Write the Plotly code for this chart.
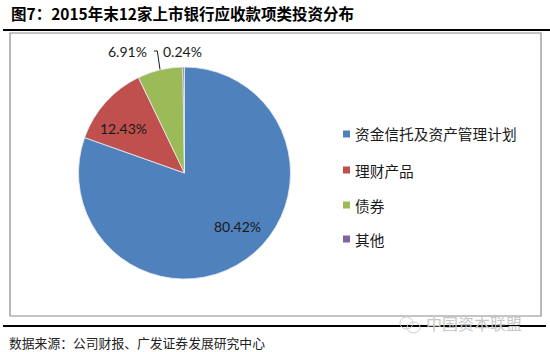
import plotly.graph_objects as go

title_text = "图7：2015年末12家上市银行应收款项类投资分布"
source_text = "数据来源：公司财报、广发证券发展研究中心"
watermark_text = "中国资本联盟"

categories = ["资金信托及资产管理计划", "理财产品", "债券", "其他"]
values = [80.42, 12.43, 6.91, 0.24]
colors = ["#4F81BD", "#C0504D", "#9BBB59", "#8064A2"]

W, H = 550, 352

def px(x):
    return x / W

def py(y):
    return 1 - y / H

cx, cy, r = 184.5, 173, 106

fig = go.Figure()
fig.add_trace(go.Pie(
    labels=categories,
    values=values,
    sort=False,
    direction="clockwise",
    rotation=0,
    marker=dict(colors=colors, line=dict(color="#E8EEF6", width=0.8)),
    textinfo="none",
    hoverinfo="skip",
    showlegend=False,
    domain=dict(x=[px(cx - r), px(cx + r)], y=[py(cy + r), py(cy - r)]),
))

shapes = []
annotations = []

# frame lines
shapes.append(dict(type="line", xref="paper", yref="paper",
                   x0=px(3), x1=px(550), y0=py(30), y1=py(30),
                   line=dict(color="#000000", width=2)))
shapes.append(dict(type="rect", xref="paper", yref="paper",
                   x0=px(10), x1=px(541), y0=py(316), y1=py(33),
                   line=dict(color="#8C8C8C", width=1.2)))
shapes.append(dict(type="line", xref="paper", yref="paper",
                   x0=px(3), x1=px(546), y0=py(326), y1=py(326),
                   line=dict(color="#000000", width=2)))

# data labels
label_pos = [(237, 226), (123, 128), (127, 51), (182, 51)]
for v, (lx, ly) in zip(values, label_pos):
    annotations.append(dict(xref="paper", yref="paper", x=px(lx), y=py(ly),
                            text=f"{v:.2f}%", showarrow=False,
                            xanchor="center", yanchor="middle",
                            font=dict(family="Lato", size=14, color="#1A1A1A")))
# leader line for 6.91%
shapes.append(dict(type="path", xref="paper", yref="paper",
                   path=f"M {px(154)} {py(51)} L {px(157.3)} {py(51)} L {px(160)} {py(69.5)}",
                   line=dict(color="#1A1A1A", width=1)))

# legend
leg_y = [134, 170, 205, 239]
for cat, col, ly in zip(categories, colors, leg_y):
    shapes.append(dict(type="rect", xref="paper", yref="paper",
                       x0=px(343), x1=px(350), y0=py(ly + 3.5), y1=py(ly - 3.5),
                       fillcolor=col, line=dict(width=0)))
    annotations.append(dict(xref="paper", yref="paper", x=px(353), y=py(ly),
                            text=cat, showarrow=False,
                            xanchor="left", yanchor="middle",
                            font=dict(family="Noto Sans CJK SC", size=14.7, color="#1A1A1A")))

# title
annotations.append(dict(xref="paper", yref="paper", x=px(9), y=py(13),
                        text=f"<b>{title_text}</b>", showarrow=False,
                        xanchor="left", yanchor="middle",
                        font=dict(family="Noto Sans CJK SC", size=15.5, color="#000000")))
# source
annotations.append(dict(xref="paper", yref="paper", x=px(7), y=py(342),
                        text=source_text, showarrow=False,
                        xanchor="left", yanchor="middle",
                        font=dict(family="Noto Sans CJK SC", size=12.8, color="#222222")))
# watermark
annotations.append(dict(xref="paper", yref="paper", x=px(424), y=py(323),
                        text=watermark_text, showarrow=False,
                        xanchor="left", yanchor="middle",
                        font=dict(family="Noto Sans CJK SC", size=16, color="#C8C8C8")))
shapes.append(dict(type="circle", xref="paper", yref="paper",
                   x0=px(400), x1=px(413), y0=py(329), y1=py(317),
                   line=dict(color="#D0D0D0", width=1)))
shapes.append(dict(type="circle", xref="paper", yref="paper",
                   x0=px(407), x1=px(420), y0=py(333), y1=py(322),
                   line=dict(color="#D0D0D0", width=1)))

fig.update_layout(
    width=W, height=H,
    margin=dict(l=0, r=0, t=0, b=0),
    paper_bgcolor="#FFFFFF",
    plot_bgcolor="#FFFFFF",
    shapes=shapes,
    annotations=annotations,
    showlegend=False,
)

fig.write_html("out.html", config={"displayModeBar": False})
